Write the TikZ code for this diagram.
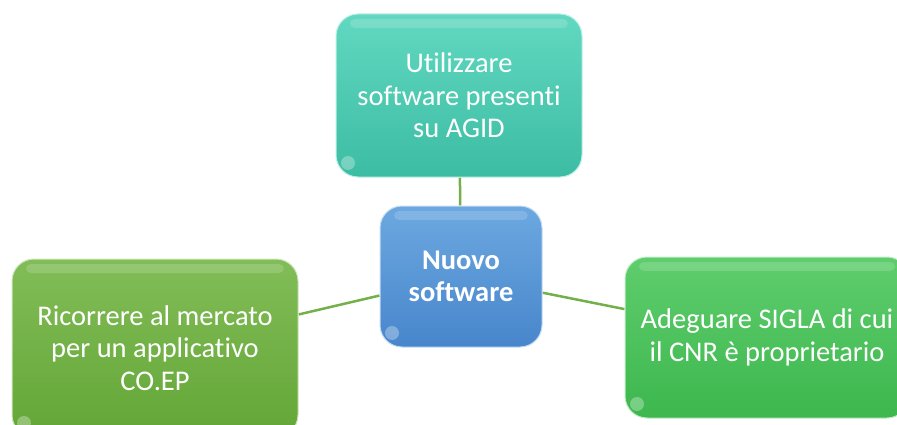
\documentclass[tikz,border=0pt]{standalone}
\usepackage{fontspec}
\setmainfont[Ligatures=NoCommon]{Carlito}
\usetikzlibrary{backgrounds}
\definecolor{tealT}{HTML}{62D8C1}
\definecolor{tealB}{HTML}{3CBDA3}
\definecolor{blueT}{HTML}{6CA8E0}
\definecolor{blueB}{HTML}{4886CC}
\definecolor{lgreenT}{HTML}{82BD57}
\definecolor{lgreenB}{HTML}{63A637}
\definecolor{rgreenT}{HTML}{5FCD6D}
\definecolor{rgreenB}{HTML}{3DB74E}
\definecolor{linkgreen}{HTML}{74B04A}
\tikzset{
  gbox/.style={rounded corners=22pt, align=center, text=white, inner sep=0pt,
    font=\fontsize{28.5}{32.5}\selectfont, draw=white!60!#1T, line width=1pt,
    top color=#1T, bottom color=#1B,
    path picture={
      \fill[white,opacity=0.16,rounded corners=5pt]
        ([shift={(14pt,-5pt)}]path picture bounding box.north west) rectangle
        ([shift={(-14pt,-14pt)}]path picture bounding box.north east);
      \fill[white,opacity=0.3]
        ([shift={(12pt,14pt)}]path picture bounding box.south west) circle[radius=7pt];
    }},
  link/.style={draw=linkgreen, line width=2.5pt}
}
\begin{document}
\begin{tikzpicture}[x=1pt,y=-1pt]
\useasboundingbox (0,0) rectangle (897,425);
\clip (0,0) rectangle (897,425);
\node[gbox=teal, minimum width=246pt, minimum height=163pt] (t) at (459,95.5)
  {Utilizzare\\software presenti\\su AGID};
\node[gbox=blue, minimum width=162pt, minimum height=141pt, font=\fontsize{28.5}{32.5}\selectfont\bfseries] (c) at (461,276.5)
  {Nuovo\\software};
\node[gbox=lgreen, minimum width=286pt, minimum height=178pt] (l) at (155,348)
  {Ricorrere al mercato\\per un applicativo\\CO.EP};
\node[gbox=rgreen, minimum width=284pt, minimum height=161pt] (r) at (767,337.5)
  {Adeguare SIGLA di cui\\il CNR è proprietario};
\begin{scope}[on background layer]
\draw[link] (t) -- (c);
\draw[link] (c) -- (l);
\draw[link] (c) -- (r);
\end{scope}
\end{tikzpicture}
\end{document}
